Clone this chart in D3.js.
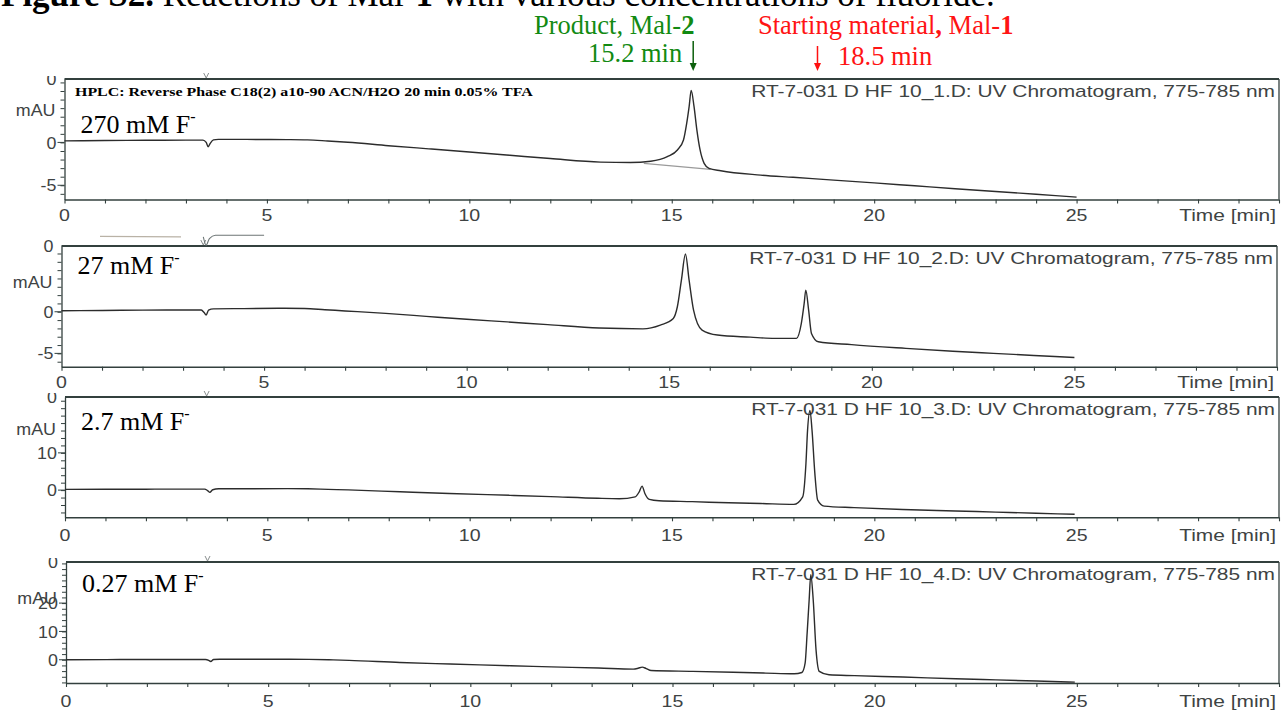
<!DOCTYPE html>
<html>
<head>
<meta charset="utf-8">
<script src="https://cdn.jsdelivr.net/npm/d3@7"></script>
<style>
  html, body { margin: 0; padding: 0; background: #ffffff; }
  svg { display: block; }
</style>
</head>
<body>
<svg id="fig" width="1282" height="713"></svg>
<script>
// ---------------------------------------------------------------
// Data: HPLC runs of Mal-1 with fluoride (UV 775-785 nm)
// ---------------------------------------------------------------
const timeDomain = [0, 30];
const timeLabelTicks = [0, 5, 10, 15, 20, 25];

const concLabels = ["270 mM F", "27 mM F", "2.7 mM F", "0.27 mM F"];
const fileNames = [
  "RT-7-031 D HF 10_1.D: UV Chromatogram, 775-785 nm",
  "RT-7-031 D HF 10_2.D: UV Chromatogram, 775-785 nm",
  "RT-7-031 D HF 10_3.D: UV Chromatogram, 775-785 nm",
  "RT-7-031 D HF 10_4.D: UV Chromatogram, 775-785 nm"
];
const yDomains = [[-6.66, 7.4], [-6.6, 7.9], [-7.3, 25], [-8.2, 34.5]];
const yLabelTicks = [[-5, 0], [-5, 0], [0, 10], [0, 10, 20]];
const yMinorStep = [1, 1, 2, 2];
const injectionTime = 3.5;

// 270 mM fluoride
const time270 = [0, 1, 2, 3, 3.42, 3.5, 3.55, 3.6, 3.68, 3.8, 4.5, 5.5, 6.0, 6.5, 7.0, 8.0, 9.0, 10.0, 11.0, 12.0, 13.24, 13.98, 14.48, 14.89, 15.14, 15.29, 15.37, 15.43, 15.48, 15.55, 15.62, 15.7, 15.8, 15.92, 16.21, 17.2, 18.0, 19.0, 20.0, 21.0, 22.0, 23.0, 24.0, 25.0];
const mau270  = [0.18, 0.22, 0.25, 0.27, 0.27, 0.0, -0.5, -0.1, 0.3, 0.36, 0.35, 0.33, 0.3, 0.17, 0.02, -0.38, -0.75, -1.12, -1.5, -1.88, -2.3, -2.35, -2.19, -1.66, -0.88, 0.29, 2.25, 4.2, 6.07, 4.2, 1.47, -0.88, -2.44, -3.02, -3.31, -3.81, -4.07, -4.4, -4.72, -5.06, -5.4, -5.72, -6.05, -6.38];
// integration baseline drawn under the product peak
const base270Time = [14.31, 15.96];
const base270Mau  = [-2.44, -3.14];

// 27 mM fluoride
const time27 = [0, 1, 2, 3, 3.45, 3.52, 3.57, 3.63, 3.75, 4.5, 5.5, 6.0, 6.5, 7.0, 8.0, 9.0, 10.0, 11.0, 12.0, 13.27, 14.35, 14.78, 15.1, 15.2, 15.3, 15.4, 15.49, 15.6, 15.81, 16.19, 17.0, 17.6, 18.14, 18.26, 18.33, 18.37, 18.44, 18.51, 18.68, 19.5, 20.84, 22.0, 23.0, 24.0, 25.0];
const mau27  = [0.12, 0.15, 0.2, 0.22, 0.22, -0.1, -0.4, 0.2, 0.35, 0.38, 0.42, 0.4, 0.25, 0.1, -0.2, -0.55, -0.9, -1.22, -1.55, -1.95, -2.05, -1.6, -0.8, 0.6, 3.8, 6.93, 3.8, 0.2, -2.2, -2.8, -3.05, -3.2, -3.2, -1.4, 1.0, 2.6, 0.2, -2.6, -3.6, -3.95, -4.4, -4.75, -5.0, -5.25, -5.5];
// edge of the neighbouring trace printed just above the 27 mM frame
const edgeATime = [0.95, 2.95];
const edgeAMau  = [9.05, 9.0];
const edgeBTime = [3.5, 3.57, 3.65, 3.8, 5.0];
const edgeBMau  = [9.0, 8.0, 8.8, 9.2, 9.2];

// 2.7 mM fluoride
const time2p7 = [0, 1, 2, 3, 3.45, 3.53, 3.58, 3.65, 3.8, 4.5, 5.5, 6.0, 6.5, 7.0, 8.28, 9.5, 11.0, 12.0, 13.17, 13.7, 14.09, 14.19, 14.26, 14.33, 14.44, 14.68, 15.5, 16.4, 17.2, 18.01, 18.23, 18.31, 18.35, 18.41, 18.46, 18.53, 18.6, 18.76, 19.5, 20.7, 22.0, 23.0, 24.0, 24.95];
const mau2p7  = [0.2, 0.22, 0.25, 0.27, 0.27, -0.2, -0.6, 0.1, 0.35, 0.38, 0.4, 0.35, 0.2, 0.05, -0.45, -0.9, -1.4, -1.75, -2.2, -2.3, -1.8, -0.45, 1.07, -0.9, -2.5, -2.87, -3.1, -3.4, -3.6, -3.83, -1.8, 7.16, 16.1, 21.4, 16.1, 4.5, -2.7, -4.3, -4.7, -5.2, -5.6, -5.9, -6.2, -6.5];

// 0.27 mM fluoride
const time0p27 = [0, 1, 2, 3, 3.45, 3.53, 3.58, 3.65, 3.8, 4.5, 5.5, 6.0, 6.5, 7.0, 8.26, 9.5, 11.0, 12.0, 13.17, 14.03, 14.15, 14.25, 14.35, 14.47, 15.5, 16.5, 17.3, 18.01, 18.2, 18.28, 18.33, 18.38, 18.42, 18.48, 18.55, 18.63, 18.87, 19.5, 20.7, 22.0, 23.0, 24.0, 24.95];
const mau0p27  = [0.0, 0.05, 0.1, 0.1, 0.1, -0.2, -0.6, 0.1, 0.2, 0.2, 0.2, 0.15, 0.0, -0.2, -0.95, -1.5, -2.1, -2.5, -2.9, -3.3, -3.0, -2.6, -3.1, -3.8, -4.1, -4.4, -4.7, -4.95, -4.5, -1.2, 9.4, 21.2, 30.0, 21.2, 3.5, -4.1, -5.3, -5.6, -6.1, -6.7, -7.1, -7.5, -7.9];

const runTimes = [time270, time27, time2p7, time0p27];
const runMau   = [mau270, mau27, mau2p7, mau0p27];

// annotation arrows above the stack (minutes on the top axis)
const productArrowTime = 15.53;
const startArrowTime = 18.6;

// ---------------------------------------------------------------
// Layout (pixels) and styles
// ---------------------------------------------------------------
const frames = [
  { left: 64.5, right: 1279, top: 79,  bottom: 199.5, concDy: 54,   mauDy: 37,   tickDy: 21.5, clipTop: 3 },
  { left: 61.5, right: 1277, top: 246, bottom: 366.7, concDy: 27.5, mauDy: 41.5, tickDy: 21.5, clipTop: 12 },
  { left: 65,   right: 1279, top: 397, bottom: 517.3, concDy: 32.5, mauDy: 38,   tickDy: 24,   clipTop: 4 },
  { left: 66,   right: 1279, top: 562, bottom: 683,   concDy: 30,   mauDy: 42,   tickDy: 23.5, clipTop: 4 }
];
const axisColor = "#33403e";
const textColor = "#3e4343";
const traceColor = "#2c2c2c";
const chartFont = "'Liberation Sans', Arial, sans-serif";
const serifFont = "'Liberation Serif', 'Times New Roman', serif";
const chartSize = 17;
const stretchK = 1.23;

const svg = d3.select("#fig");
svg.append("rect").attr("width", 1282).attr("height", 713).attr("fill", "#ffffff");

// widen chart text the way the printed chromatogram is widened
function widen(sel, k) {
  sel.each(function () {
    const L = this.getComputedTextLength();
    d3.select(this).attr("textLength", L * k).attr("lengthAdjust", "spacingAndGlyphs");
  });
}

const lineGen = (x, y) => d3.line().x(d => x(d[0])).y(d => y(d[1])).curve(d3.curveMonotoneX);

frames.forEach((f, i) => {
  const x = d3.scaleLinear().domain(timeDomain).range([f.left, f.right]);
  const y = d3.scaleLinear().domain(yDomains[i]).range([f.bottom, f.top]);
  const g = svg.append("g").attr("class", "run run-" + i);

  // clip region for the y labels (top label is cut by the frame above)
  const clipId = "clip-y-" + i;
  svg.append("clipPath").attr("id", clipId)
    .append("rect").attr("x", 0).attr("y", f.top - f.clipTop)
    .attr("width", f.left + 2).attr("height", f.bottom - f.top + f.clipTop + 30);

  // frame: top rule and right border
  g.append("line").attr("x1", f.left).attr("x2", f.right).attr("y1", f.top).attr("y2", f.top)
    .attr("stroke", axisColor).attr("stroke-width", 2);
  g.append("line").attr("x1", f.right).attr("x2", f.right).attr("y1", f.top).attr("y2", f.bottom)
    .attr("stroke", axisColor).attr("stroke-width", 1.3);

  // injection marker on the top rule
  const xi = x(injectionTime);
  g.append("path").attr("d", `M${xi - 2.5},${f.top - 6}L${xi},${f.top - 1}L${xi + 2.5},${f.top - 6}`)
    .attr("fill", "none").attr("stroke", "#8a8f8f").attr("stroke-width", 1);

  // x axis with one-minute ticks
  const xAxis = d3.axisBottom(x).tickValues(x.ticks(30)).tickSize(4).tickSizeOuter(0).tickFormat("");
  const gx = g.append("g").attr("transform", `translate(0,${f.bottom})`).call(xAxis);
  gx.select(".domain").attr("stroke", axisColor).attr("stroke-width", 1.6);
  gx.selectAll(".tick line").attr("stroke", axisColor).attr("stroke-width", 1.1);

  // x labels
  const xl = g.append("g").attr("font-family", chartFont).attr("font-size", chartSize).attr("fill", textColor);
  xl.selectAll("text.xt").data(timeLabelTicks).join("text")
    .attr("class", "xt")
    .attr("x", d => x(d)).attr("y", f.bottom + f.tickDy)
    .attr("text-anchor", "middle").text(d => d)
    .call(widen, 1.15);
  xl.append("text").attr("x", f.right - 3).attr("y", f.bottom + f.tickDy)
    .attr("text-anchor", "end").text("Time [min]").call(widen, stretchK);

  // y axis: minor ticks
  const yd = yDomains[i];
  const minor = d3.range(Math.ceil(yd[0] / yMinorStep[i]) * yMinorStep[i], yd[1] + 0.001, yMinorStep[i]);
  const yAxis = d3.axisLeft(y).tickValues(minor).tickSize(4).tickSizeOuter(0).tickFormat("");
  const gy = g.append("g").attr("transform", `translate(${f.left},0)`).call(yAxis);
  gy.select(".domain").attr("stroke", axisColor).attr("stroke-width", 1.3);
  gy.selectAll(".tick line").attr("stroke", axisColor).attr("stroke-width", 1);

  // y labels (major ticks + labels), clipped at the top
  const yl = g.append("g").attr("clip-path", `url(#${clipId})`)
    .attr("font-family", chartFont).attr("font-size", chartSize).attr("fill", textColor);
  yl.selectAll("line.ymaj").data(yLabelTicks[i]).join("line").attr("class", "ymaj")
    .attr("x1", f.left - 7).attr("x2", f.left).attr("y1", d => y(d)).attr("y2", d => y(d))
    .attr("stroke", axisColor).attr("stroke-width", 1);
  yl.selectAll("text.yt").data(yLabelTicks[i]).join("text").attr("class", "yt")
    .attr("x", f.left - 8).attr("y", d => y(d) + 6.1)
    .attr("text-anchor", "end").text(d => d).call(widen, 1.05);
  // label sitting on the top rule
  yl.append("text").attr("x", f.left - 8).attr("y", f.top + 6.1)
    .attr("text-anchor", "end").text("0").call(widen, 1.05);
  yl.append("text").attr("x", f.left - 9).attr("y", f.top + f.mauDy)
    .attr("text-anchor", "end").text("mAU").call(widen, 1.05);

  // file caption
  g.append("text").attr("x", f.right - 4).attr("y", f.top + 18)
    .attr("text-anchor", "end").attr("font-family", chartFont).attr("font-size", chartSize)
    .attr("fill", textColor).text(fileNames[i]).call(widen, stretchK);

  // concentration label
  const ct = g.append("text").attr("x", f.left + 16).attr("y", f.top + f.concDy)
    .attr("font-family", serifFont).attr("font-size", 26).attr("fill", "#000");
  ct.append("tspan").text(concLabels[i]);
  ct.append("tspan").attr("font-size", 16).attr("dy", -11).text("-");

  // integration baseline and trace
  const ln = lineGen(x, y);
  if (i === 0) {
    g.append("path").datum(d3.zip(base270Time, base270Mau)).attr("d", ln)
      .attr("fill", "none").attr("stroke", "#9a9a9a").attr("stroke-width", 1.1);
  }
  if (i === 1) {
    g.append("path").datum(d3.zip(edgeATime, edgeAMau)).attr("d", ln)
      .attr("fill", "none").attr("stroke", "#b9b2a6").attr("stroke-width", 1.2);
    g.append("path").datum(d3.zip(edgeBTime, edgeBMau)).attr("d", ln)
      .attr("fill", "none").attr("stroke", "#6d7676").attr("stroke-width", 1.1);
  }
  g.append("path").datum(d3.zip(runTimes[i], runMau[i])).attr("d", ln)
    .attr("fill", "none").attr("stroke", traceColor).attr("stroke-width", 1.4)
    .attr("stroke-linejoin", "round");

  if (i === 0) {
    // method note
    g.append("text").attr("x", f.left + 10.5).attr("y", f.top + 17)
      .attr("font-family", serifFont).attr("font-weight", "bold").attr("font-size", 13.5)
      .attr("fill", "#000").text("HPLC: Reverse Phase C18(2) a10-90 ACN/H2O 20 min 0.05% TFA")
      .call(widen, 1.18);

    // annotation arrows
    const arrow = (t, y0, y1, color) => {
      const xa = x(t);
      svg.append("line").attr("x1", xa).attr("x2", xa).attr("y1", y0).attr("y2", y1 - 7)
        .attr("stroke", color).attr("stroke-width", 1.5);
      svg.append("path").attr("d", `M${xa - 3.5},${y1 - 8}L${xa + 3.5},${y1 - 8}L${xa},${y1}Z`).attr("fill", color);
    };
    arrow(productArrowTime, 41, 71, "#0c5f0c");
    arrow(startArrowTime, 46, 71, "#ff1010");
  }
});

// headline (top cut by the page edge)
const head = svg.append("text").attr("x", 1).attr("y", 6)
  .attr("font-family", serifFont).attr("font-size", 35).attr("fill", "#000");
head.append("tspan").attr("font-weight", "bold").text("Figure S2.");
head.append("tspan").text(" Reactions of Mal-");
head.append("tspan").attr("font-weight", "bold").text("1");
head.append("tspan").text(" with various concentrations of fluoride.");

// compound annotations
const green = "#128a12", red = "#ff1414";
const p1 = svg.append("text").attr("x", 534).attr("y", 33.5)
  .attr("font-family", serifFont).attr("font-size", 26.5).attr("fill", green);
p1.append("tspan").text("Product, Mal-");
p1.append("tspan").attr("font-weight", "bold").text("2");
svg.append("text").attr("x", 588).attr("y", 61.5)
  .attr("font-family", serifFont).attr("font-size", 26.5).attr("fill", green).text("15.2 min");

const s1 = svg.append("text").attr("x", 758).attr("y", 34)
  .attr("font-family", serifFont).attr("font-size", 26.5).attr("fill", red);
s1.append("tspan").text("Starting material");
s1.append("tspan").attr("font-weight", "bold").text(",");
s1.append("tspan").text(" Mal-");
s1.append("tspan").attr("font-weight", "bold").text("1");
svg.append("text").attr("x", 838).attr("y", 65)
  .attr("font-family", serifFont).attr("font-size", 26.5).attr("fill", red).text("18.5 min");
</script>
</body>
</html>
